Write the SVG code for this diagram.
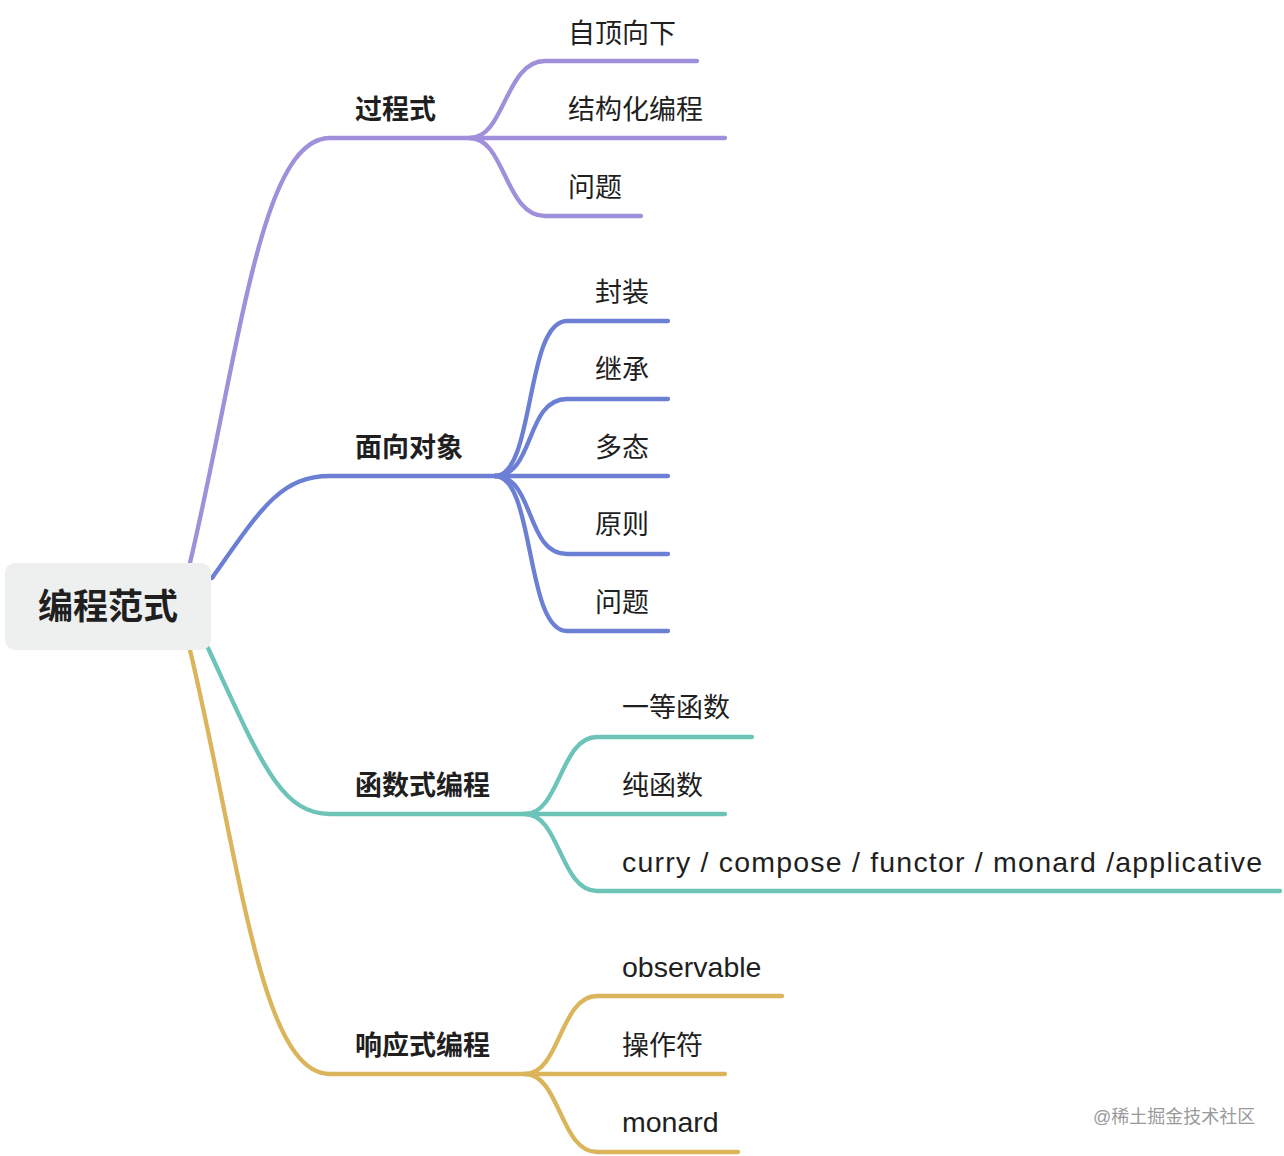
<svg xmlns="http://www.w3.org/2000/svg" width="1284" height="1156" viewBox="0 0 1284 1156">
<style>
.l{fill:none;stroke-width:4.3;stroke-linecap:round;stroke-linejoin:round}
.p{stroke:#a08fdb}.b{stroke:#6b7fd4}.t{stroke:#6cc3b8}.g{stroke:#dbb55b}
text{fill:#1f1f1f;font-family:"Liberation Sans","Noto Sans CJK SC",sans-serif}
.m{font-size:27px;font-weight:bold}
.c{font-size:27px}
.e{font-size:28.5px}
.r{font-size:35px;font-weight:bold;text-anchor:middle}
.w{font-size:18px;fill:#9a9a9a}
</style>
<rect width="1284" height="1156" fill="#ffffff"/>
<g id="connectors">
<path class="l p" d="M190,563 C240,350 260,138 330,138 L470,138"/>
<path class="l p" d="M470,138 C505,138 505,61 545,61 L697,61"/>
<path class="l p" d="M470,138 L725,138"/>
<path class="l p" d="M470,138 C505,138 505,216 545,216 L641,216"/>
<path class="l b" d="M212,578 C260,510 280,476 330,476 L495,476"/>
<path class="l b" d="M495,476 C535,476 525,321 567,321 L668,321"/>
<path class="l b" d="M495,476 C535,476 525,399 567,399 L668,399"/>
<path class="l b" d="M495,476 L668,476"/>
<path class="l b" d="M495,476 C535,476 525,554 567,554 L668,554"/>
<path class="l b" d="M495,476 C535,476 525,631 567,631 L668,631"/>
<path class="l t" d="M208,648 C260,760 280,814 330,814 L525,814"/>
<path class="l t" d="M525,814 C560,814 560,737 597,737 L752,737"/>
<path class="l t" d="M525,814 L725,814"/>
<path class="l t" d="M525,814 C560,814 560,891 597,891 L1280,891"/>
<path class="l g" d="M190,650 C240,860 260,1074 330,1074 L525,1074"/>
<path class="l g" d="M525,1074 C560,1074 560,996 597,996 L782,996"/>
<path class="l g" d="M525,1074 L725,1074"/>
<path class="l g" d="M525,1074 C560,1074 560,1152 597,1152 L738,1152"/>
</g>
<g id="root">
<rect x="5" y="563" width="206" height="87" rx="10" fill="#eeefef"/>
<text class="r" x="108" y="619">编程范式</text>
</g>
<g id="n-guocheng"><text class="m" x="355" y="119">过程式</text></g>
<g id="n-zidingxiangxia"><text class="c" x="568" y="43">自顶向下</text></g>
<g id="n-jiegouhua"><text class="c" x="568" y="119">结构化编程</text></g>
<g id="n-wenti1"><text class="c" x="568" y="197">问题</text></g>
<g id="n-mianxiang"><text class="m" x="355" y="457">面向对象</text></g>
<g id="n-fengzhuang"><text class="c" x="595" y="302">封装</text></g>
<g id="n-jicheng"><text class="c" x="595" y="379">继承</text></g>
<g id="n-duotai"><text class="c" x="595" y="457">多态</text></g>
<g id="n-yuanze"><text class="c" x="595" y="534">原则</text></g>
<g id="n-wenti2"><text class="c" x="595" y="612">问题</text></g>
<g id="n-hanshushi"><text class="m" x="355" y="795">函数式编程</text></g>
<g id="n-yideng"><text class="c" x="622" y="717">一等函数</text></g>
<g id="n-chun"><text class="c" x="622" y="795">纯函数</text></g>
<g id="n-curry"><text class="e" x="622" y="872" textLength="640" lengthAdjust="spacing">curry / compose / functor / monard /applicative</text></g>
<g id="n-xiangying"><text class="m" x="355" y="1055">响应式编程</text></g>
<g id="n-observable"><text class="e" x="622" y="977">observable</text></g>
<g id="n-caozuofu"><text class="c" x="622" y="1055">操作符</text></g>
<g id="n-monard"><text class="e" x="622" y="1132">monard</text></g>
<text class="w" x="1093" y="1123">@稀土掘金技术社区</text>
</svg>
